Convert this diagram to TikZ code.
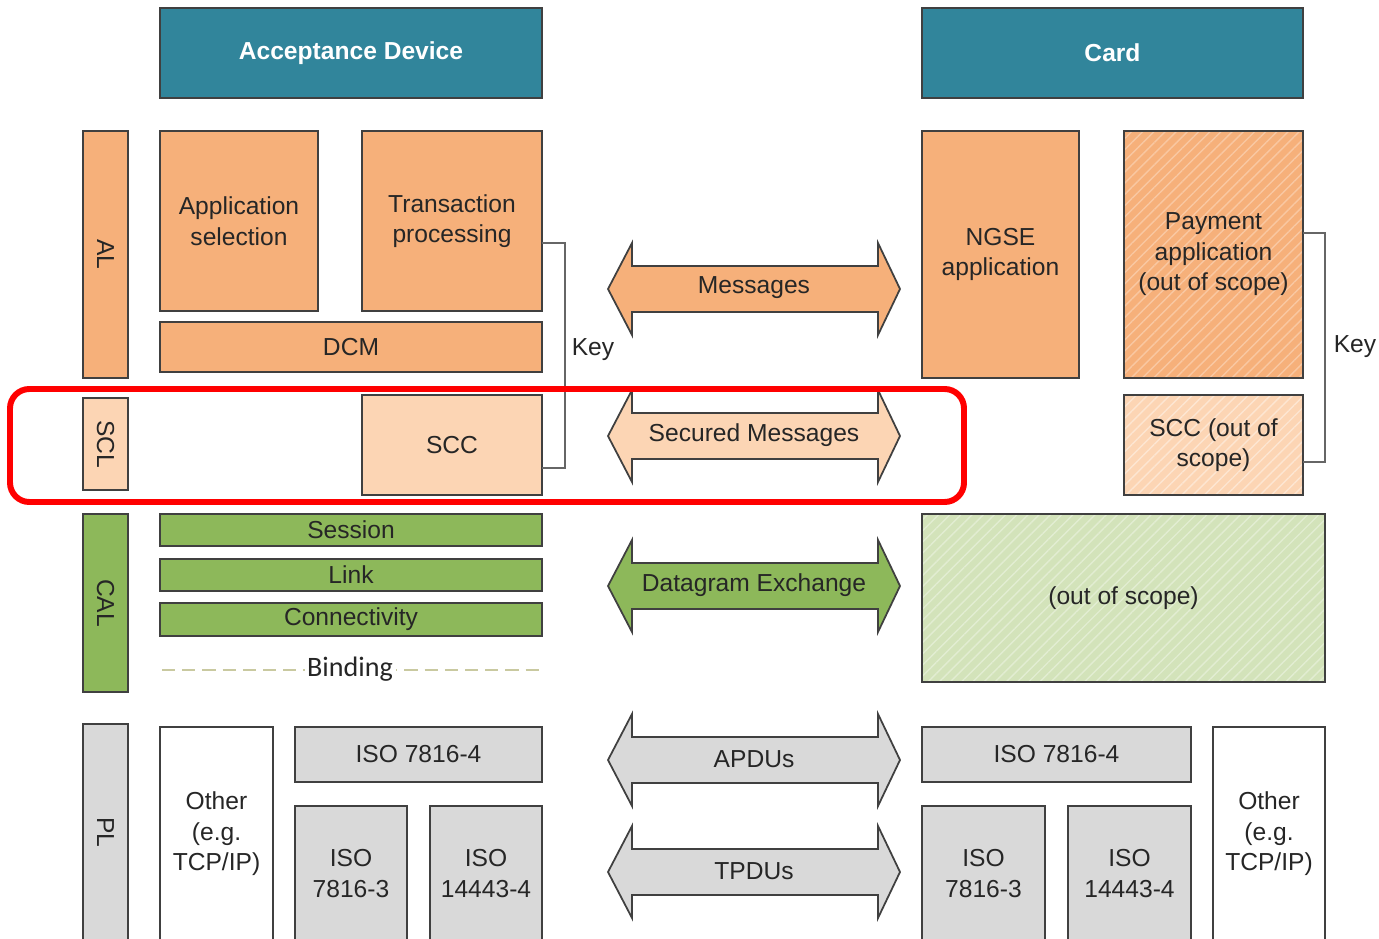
\documentclass[tikz,border=0pt]{standalone}
\usepackage{fontspec}
\setmainfont{Liberation Sans}
\newfontfamily\calib{Carlito}
\usetikzlibrary{patterns.meta}
\definecolor{hdrC}{HTML}{31859B}
\definecolor{orgC}{HTML}{F6B07A}
\definecolor{pchC}{HTML}{FCD5B4}
\definecolor{grnC}{HTML}{8DB85A}
\definecolor{lgrC}{HTML}{D3E3BA}
\definecolor{gryC}{HTML}{D9D9D9}
\definecolor{lineC}{HTML}{404040}
\definecolor{txtC}{HTML}{262626}
\definecolor{bindC}{HTML}{C9C9A0}
\newcommand{\mybox}[7]{\node[#6, minimum width={(#4-#2)*0.02cm}, minimum height={(#5-#3)*0.02cm}] (#1) at ({(#2+#4)/2},{(#3+#5)/2}) {#7};}
\newcommand{\myvbox}[7]{\node[#6, rotate=-90, minimum width={(#5-#3)*0.02cm}, minimum height={(#4-#2)*0.02cm}] (#1) at ({(#2+#4)/2},{(#3+#5)/2}) {#7};}
\newcommand{\myarrow}[4]{%
\path[#3] (608,#2) -- (632,{#2-46}) -- (632,{#2-23}) -- (878,{#2-23}) -- (878,{#2-46}) -- (900,#2) -- (878,{#2+46}) -- (878,{#2+23}) -- (632,{#2+23}) -- (632,{#2+46}) -- cycle;
\node[arrtext] (#1) at (754,{#2-1}) {#4};}
\begin{document}
\begin{tikzpicture}[x=0.02cm,y=-0.02cm,
  basebox/.style={draw=lineC, line width=1pt, inner sep=0pt, outer sep=0pt, align=center, text=txtC, font=\fontsize{14}{17.4}\selectfont},
  hdr/.style={basebox, fill=hdrC, text=white, font=\bfseries\fontsize{14}{17}\selectfont},
  obox/.style={basebox, fill=orgC},
  pbox/.style={basebox, fill=pchC},
  gbox/.style={basebox, fill=grnC},
  grbox/.style={basebox, fill=gryC},
  wbox/.style={basebox, fill=white},
  hatchO/.style={basebox, preaction={fill=orgC}, preaction={pattern={Lines[angle=45,distance=4.5pt,line width=0.8pt]}, pattern color=orgC!70!white}},
  hatchP/.style={basebox, preaction={fill=pchC}, preaction={pattern={Lines[angle=45,distance=4.5pt,line width=0.8pt]}, pattern color=pchC!60!white}},
  hatchG/.style={basebox, preaction={fill=lgrC}, preaction={pattern={Lines[angle=45,distance=4.5pt,line width=0.8pt]}, pattern color=lgrC!65!white}},
  hlbox/.style={draw=red, line width=3.4pt, rounded corners=11pt, inner sep=0pt},
  arrO/.style={draw=lineC, line width=1pt, fill=orgC, line join=miter},
  arrP/.style={draw=lineC, line width=1pt, fill=pchC, line join=miter},
  arrG/.style={draw=lineC, line width=1pt, fill=grnC, line join=miter},
  arrY/.style={draw=lineC, line width=1pt, fill=gryC, line join=miter},
  arrtext/.style={text=txtC, font=\fontsize{14}{17}\selectfont, inner sep=0pt},
  keyline/.style={draw=lineC!80, line width=0.9pt},
  keytext/.style={text=txtC, font=\fontsize{14}{17}\selectfont, inner sep=0pt},
  bindline/.style={draw=bindC, line width=1.2pt, dash pattern=on 7.5pt off 4pt}
]
\useasboundingbox (0,0) rectangle (1379,939);
\clip (0,0) rectangle (1379,939);
\fill[white] (0,0) rectangle (1379,939);
% headers
\mybox{hdrA}{160}{8}{542}{98}{hdr}{Acceptance Device}
\mybox{hdrB}{922}{8}{1303}{98}{hdr}{Card}
% layer labels
\myvbox{al}{83}{131}{128}{378}{obox}{AL}
\myvbox{scl}{83}{398}{128}{490}{pbox}{SCL}
\myvbox{cal}{83}{514}{128}{692}{gbox}{CAL}
\myvbox{pl}{83}{724}{128}{941}{grbox}{PL}
% left AL
\mybox{as}{160}{131}{318}{311}{obox}{Application\\selection}
\mybox{tp}{362}{131}{542}{311}{obox}{Transaction\\processing}
\mybox{dcm}{160}{322}{542}{372}{obox}{DCM}
\mybox{scc}{362}{395}{542}{495}{pbox}{SCC}
% left CAL
\mybox{sess}{160}{514}{542}{546}{gbox}{Session}
\mybox{link}{160}{559}{542}{591}{gbox}{Link}
\mybox{conn}{160}{603}{542}{636}{gbox}{Connectivity}
\draw[bindline] (162,670) -- (540,670);
\node[fill=white, inner xsep=1.5pt, inner ysep=1pt, text=txtC, font=\calib\fontsize{16}{18}\selectfont] (bind) at (350,669) {Binding};
% left PL
\mybox{othL}{160}{727}{273}{941}{wbox}{Other\\(e.g.\\TCP/IP)}
\mybox{isoL4}{295}{727}{542}{782}{grbox}{ISO 7816-4}
\mybox{isoL3}{295}{806}{407}{941}{grbox}{ISO\\7816-3}
\mybox{isoL14}{430}{806}{542}{941}{grbox}{ISO\\14443-4}
% right side
\mybox{ngse}{922}{131}{1079}{378}{obox}{NGSE\\application}
\mybox{pay}{1124}{131}{1303}{378}{hatchO}{Payment\\application\\(out of scope)}
\mybox{sccR}{1124}{395}{1303}{495}{hatchP}{SCC (out of\\scope)}
\mybox{oos}{922}{514}{1325}{682}{hatchG}{(out of scope)}
\mybox{isoR4}{922}{727}{1191}{782}{grbox}{ISO 7816-4}
\mybox{isoR3}{922}{806}{1045}{941}{grbox}{ISO\\7816-3}
\mybox{isoR14}{1068}{806}{1191}{941}{grbox}{ISO\\14443-4}
\mybox{othR}{1213}{727}{1325}{941}{wbox}{Other\\(e.g.\\TCP/IP)}
% key brackets
\draw[keyline] ([yshift=-0.44cm]tp.east) -- ++(23,0) |- ([yshift=-0.46cm]scc.east);
\node[keytext] (keyL) at (593,350) {Key};
\draw[keyline] ([yshift=0.43cm]pay.east) -- ++(22,0) |- ([yshift=-0.34cm]sccR.east);
\node[keytext] (keyR) at (1355,347) {Key};
% arrows
\myarrow{msg}{289}{arrO}{Messages}
\myarrow{smsg}{436}{arrP}{Secured Messages}
\myarrow{dgx}{586}{arrG}{Datagram Exchange}
\myarrow{apdu}{760}{arrY}{APDUs}
\myarrow{tpdu}{872}{arrY}{TPDUs}
% highlight
\mybox{hl}{10}{389}{964}{502}{hlbox}{}
\end{tikzpicture}
\end{document}
